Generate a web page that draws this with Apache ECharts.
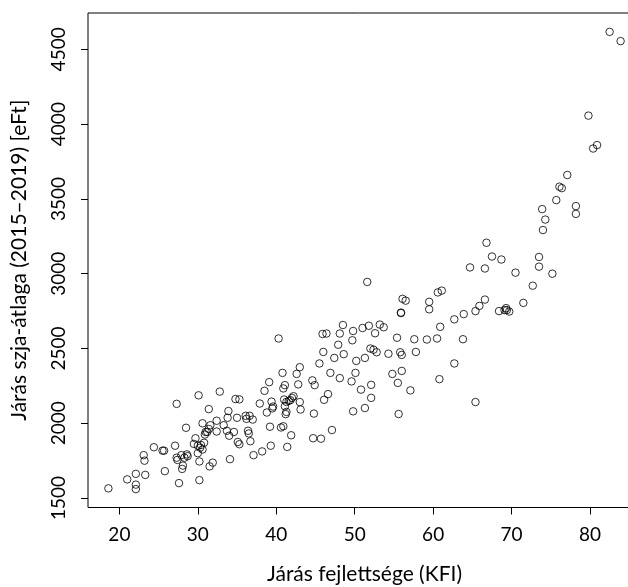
<!DOCTYPE html>
<html>
<head>
<meta charset="utf-8">
<script src="https://cdn.jsdelivr.net/npm/echarts@6/dist/echarts.min.js"></script>
<style>
  html, body { margin: 0; padding: 0; background: #fff; }
  #chart { width: 628px; height: 587px; }
</style>
</head>
<body>
<div id="chart"></div>
<script>
// district development index (KFI) and mean personal income tax 2015-2019 [eFt]
const kfi = [
  18.6, 21.0, 22.1, 22.1, 22.1, 23.3, 23.1, 23.2, 24.4, 25.5, 25.7, 25.8, 27.1, 27.3, 27.3, 27.6, 27.4, 27.9, 28.0, 28.1,
  28.3, 28.5, 28.6, 28.7, 29.5, 29.7, 30.0, 30.0, 30.1, 30.2, 30.2, 30.3, 30.4, 30.6, 30.6, 30.8, 30.9, 31.0, 31.2, 31.4,
  31.4, 31.5, 31.6, 31.9, 32.4, 32.4, 32.8, 33.3, 33.7, 33.8, 33.9, 34.0, 34.1, 34.6, 34.8, 35.0, 35.1, 35.3, 35.3, 36.1,
  36.2, 36.4, 36.6, 36.5, 36.7, 37.0, 37.1, 37.9, 38.2, 38.5, 38.8, 39.1, 39.2, 39.3, 39.4, 39.5, 39.6, 40.3, 40.6, 40.8,
  40.9, 40.9, 41.1, 41.0, 41.1, 41.2, 41.3, 41.3, 41.6, 41.8, 42.0, 42.2, 41.4, 41.9, 42.6, 42.8, 43.0, 43.0, 43.1, 44.6,
  44.8, 44.7, 44.9, 45.5, 45.7, 45.9, 46.0, 46.1, 46.4, 46.6, 46.9, 47.1, 47.4, 47.9, 48.1, 48.1, 48.5, 48.6, 49.6, 49.7,
  49.8, 49.8, 50.1, 50.2, 50.8, 51.0, 51.3, 51.3, 51.6, 51.8, 52.0, 52.1, 52.1, 52.4, 52.6, 52.8, 53.2, 53.7, 54.3, 54.8,
  55.4, 55.5, 55.6, 55.8, 55.9, 55.9, 56.0, 56.0, 56.1, 56.5, 57.1, 57.6, 57.8, 59.2, 59.5, 59.5, 60.5, 60.6, 60.8, 60.9,
  61.1, 62.7, 62.7, 63.8, 63.9, 64.7, 65.4, 65.4, 65.9, 66.6, 66.6, 66.8, 67.5, 68.4, 68.7, 69.1, 69.3, 69.4, 69.7, 70.5,
  71.5, 72.7, 73.5, 73.5, 73.9, 74.0, 74.3, 75.2, 75.7, 76.1, 76.4, 77.1, 78.2, 78.2, 79.8, 80.4, 80.9, 82.5, 83.9
];
const szja = [
  1565, 1625, 1590, 1560, 1662, 1655, 1787, 1750, 1840, 1817, 1817, 1680, 1850, 2130, 1770, 1600, 1755, 1787, 1695, 1717,
  1770, 1970, 1792, 1780, 1862, 1900, 1850, 1800, 2187, 1745, 1620, 1837, 1855, 2000, 1825, 1870, 1925, 1942, 1942, 2095,
  1962, 1712, 1987, 1737, 2017, 1945, 2212, 1987, 1950, 2037, 2082, 1917, 1760, 1942, 2162, 2037, 1875, 1860, 2160, 2050,
  2030, 1950, 2050, 1932, 1880, 2025, 1787, 2132, 1812, 2217, 2072, 2275, 1977, 1850, 2145, 2100, 2112, 2567, 1972, 2337,
  1980, 2233, 2255, 2159, 2114, 2061, 2076, 2143, 2150, 2155, 2170, 2181, 1842, 1920, 2330, 2260, 2375, 2142, 2092, 2287,
  2065, 1900, 2255, 2400, 1897, 2597, 2477, 2157, 2600, 2195, 2337, 1955, 2437, 2525, 2600, 2302, 2657, 2462, 2280, 2555,
  2617, 2080, 2337, 2417, 2225, 2637, 2437, 2102, 2945, 2652, 2500, 2257, 2170, 2492, 2602, 2475, 2660, 2642, 2465, 2330,
  2572, 2270, 2062, 2475, 2740, 2737, 2457, 2350, 2832, 2820, 2220, 2562, 2477, 2560, 2812, 2762, 2567, 2875, 2295, 2645,
  2887, 2695, 2400, 2562, 2730, 3042, 2142, 2750, 2785, 3035, 2827, 3207, 3115, 2750, 3095, 2757, 2770, 2757, 2747, 3007,
  2805, 2920, 3112, 3047, 3432, 3292, 3362, 3000, 3492, 3582, 3572, 3660, 3452, 3400, 4057, 3837, 3860, 4617, 4555
];
const xTicks = [20, 30, 40, 50, 60, 70, 80];
const yTicks = [1500, 2000, 2500, 3000, 3500, 4000, 4500];

const font = 'Lato, "Open Sans", sans-serif';
const chart = echarts.init(document.getElementById('chart'), null, { renderer: 'canvas' });

chart.setOption({
  animation: false,
  backgroundColor: '#fff',
  grid: {
    left: 88, top: 13, width: 553, height: 494.5,
    outerBoundsMode: 'none',
    show: true, borderColor: '#000', borderWidth: 1, backgroundColor: 'transparent'
  },
  xAxis: {
    type: 'value', min: 16, max: 86.5,
    name: 'Járás fejlettsége (KFI)', nameLocation: 'middle', nameGap: 56,
    nameTextStyle: { fontFamily: font, fontSize: 21, color: '#000' },
    splitLine: { show: false },
    axisLine: { show: false },
    axisTick: { show: true, length: 7, customValues: xTicks, lineStyle: { color: '#000' } },
    axisLabel: {
      customValues: xTicks, margin: 18, fontFamily: font, fontSize: 19, color: '#000',
      formatter: v => String(v)
    }
  },
  yAxis: {
    type: 'value', min: 1437, max: 4743,
    name: 'Járás szja-átlaga (2015–2019) [eFt]', nameLocation: 'middle', nameGap: 58, nameRotate: 90,
    nameTextStyle: { fontFamily: font, fontSize: 21, color: '#000' },
    splitLine: { show: false },
    axisLine: { show: false },
    axisTick: { show: true, length: 7, customValues: yTicks, lineStyle: { color: '#000' } },
    axisLabel: {
      customValues: yTicks, rotate: 90, margin: 20, fontFamily: font, fontSize: 19, color: '#000',
      formatter: v => String(v)
    }
  },
  series: [{
    type: 'scatter',
    data: kfi.map((x, i) => [x, szja[i]]),
    symbol: 'circle',
    symbolSize: 7.5,
    itemStyle: { color: 'rgba(0,0,0,0)', borderColor: '#000', borderWidth: 1 }
  }]
});
</script>
</body>
</html>
